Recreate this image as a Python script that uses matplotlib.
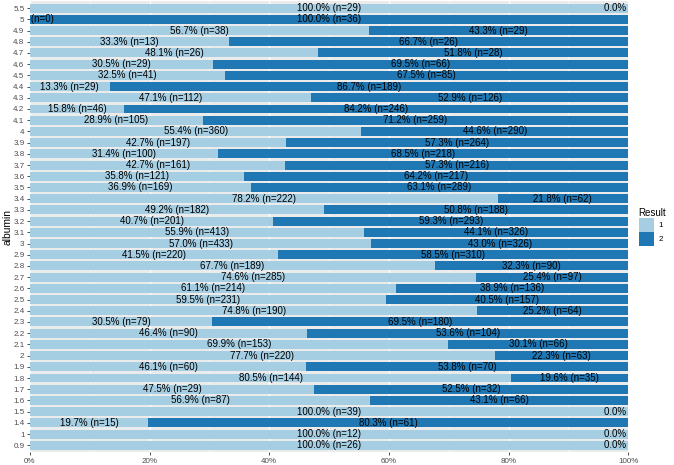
import matplotlib
matplotlib.use("Agg")
import matplotlib.pyplot as plt
from matplotlib.patches import Patch
import numpy as np

plt.rcParams['font.family'] = ['Liberation Sans', 'DejaVu Sans']

# albumin levels, bottom to top
albumin = ["0.9", "1", "1.4", "1.5", "1.6", "1.7", "1.8", "1.9", "2", "2.1",
           "2.2", "2.3", "2.4", "2.5", "2.6", "2.7", "2.8", "2.9", "3", "3.1",
           "3.2", "3.3", "3.4", "3.5", "3.6", "3.7", "3.8", "3.9", "4", "4.1",
           "4.2", "4.3", "4.4", "4.5", "4.6", "4.7", "4.8", "4.9", "5", "5.5"]

# Result = 1
n1 = [26, 12, 15, 39, 87, 29, 144, 60, 220, 153,
      90, 79, 190, 231, 214, 285, 189, 220, 433, 413,
      201, 182, 222, 169, 121, 161, 100, 197, 360, 105,
      46, 112, 29, 41, 29, 26, 13, 38, 0, 29]
pct1 = [100.0, 100.0, 19.7, 100.0, 56.9, 47.5, 80.5, 46.1, 77.7, 69.9,
        46.4, 30.5, 74.8, 59.5, 61.1, 74.6, 67.7, 41.5, 57.0, 55.9,
        40.7, 49.2, 78.2, 36.9, 35.8, 42.7, 31.4, 42.7, 55.4, 28.9,
        15.8, 47.1, 13.3, 32.5, 30.5, 48.1, 33.3, 56.7, 0.0, 100.0]

# Result = 2
n2 = [0, 0, 61, 0, 66, 32, 35, 70, 63, 66,
      104, 180, 64, 157, 136, 97, 90, 310, 326, 326,
      293, 188, 62, 289, 217, 216, 218, 264, 290, 259,
      246, 126, 189, 85, 66, 28, 26, 29, 36, 0]
pct2 = [0.0, 0.0, 80.3, 0.0, 43.1, 52.5, 19.6, 53.8, 22.3, 30.1,
        53.6, 69.5, 25.2, 40.5, 38.9, 25.4, 32.3, 58.5, 43.0, 44.1,
        59.3, 50.8, 21.8, 63.1, 64.2, 57.3, 68.5, 57.3, 44.6, 71.2,
        84.2, 52.9, 86.7, 67.5, 69.5, 51.8, 66.7, 43.3, 100.0, 0.0]

c1 = "#A6CEE3"
c2 = "#1F78B4"

fig = plt.figure(figsize=(6.74, 4.65), dpi=100)
ax = fig.add_axes([0.0445, 0.028, 0.8875, 0.969])
ax.set_facecolor("#EBEBEB")

y = np.arange(len(albumin))
n1a = np.array(n1, dtype=float)
n2a = np.array(n2, dtype=float)
tot = n1a + n2a
f1 = n1a / tot
f2 = n2a / tot

# grid
for g in [0.1, 0.3, 0.5, 0.7, 0.9]:
    ax.axvline(g, color="white", lw=0.4, zorder=0)
for g in [0, 0.2, 0.4, 0.6, 0.8, 1.0]:
    ax.axvline(g, color="white", lw=0.9, zorder=0)

ax.barh(y, f1, height=0.8, color=c1, lw=0, zorder=2)
ax.barh(y, f2, left=f1, height=0.8, color=c2, lw=0, zorder=2)

for i in range(len(albumin)):
    ax.text(f1[i] / 2, y[i], "%.1f%% (n=%d)" % (pct1[i], n1[i]),
            ha="center", va="center", fontsize=7, color="black",
            clip_on=True, zorder=3)
    ax.text(f1[i] + f2[i] / 2, y[i], "%.1f%% (n=%d)" % (pct2[i], n2[i]),
            ha="center", va="center", fontsize=7, color="black",
            clip_on=True, zorder=3)

ax.set_xlim(0, 1)
ax.set_ylim(-0.6, len(albumin) - 0.4)
ax.set_yticks(y)
ax.set_yticklabels(albumin)
ax.set_xticks([0, 0.2, 0.4, 0.6, 0.8, 1.0])
ax.set_xticklabels(["0%", "20%", "40%", "60%", "80%", "100%"])
ax.tick_params(axis="both", labelsize=5.8, labelcolor="#4D4D4D",
               color="#333333", length=2.5, width=0.6, pad=1.5)
for s in ax.spines.values():
    s.set_visible(False)
ax.set_ylabel("albumin", fontsize=7.4, color="black")
ax.yaxis.set_label_coords(-0.029, 0.5)

handles = [Patch(facecolor=c1, edgecolor="none", label="1"),
           Patch(facecolor=c2, edgecolor="none", label="2")]
leg = ax.legend(handles=handles, title="Result", loc="center left",
                bbox_to_anchor=(1.008, 0.5), frameon=False, fontsize=5.8,
                title_fontsize=7, handlelength=1.9, handleheight=2.3,
                labelspacing=0.0, handletextpad=0.6, borderaxespad=0.3)
leg._legend_box.align = "left"

fig.savefig("out.png", dpi=100)
